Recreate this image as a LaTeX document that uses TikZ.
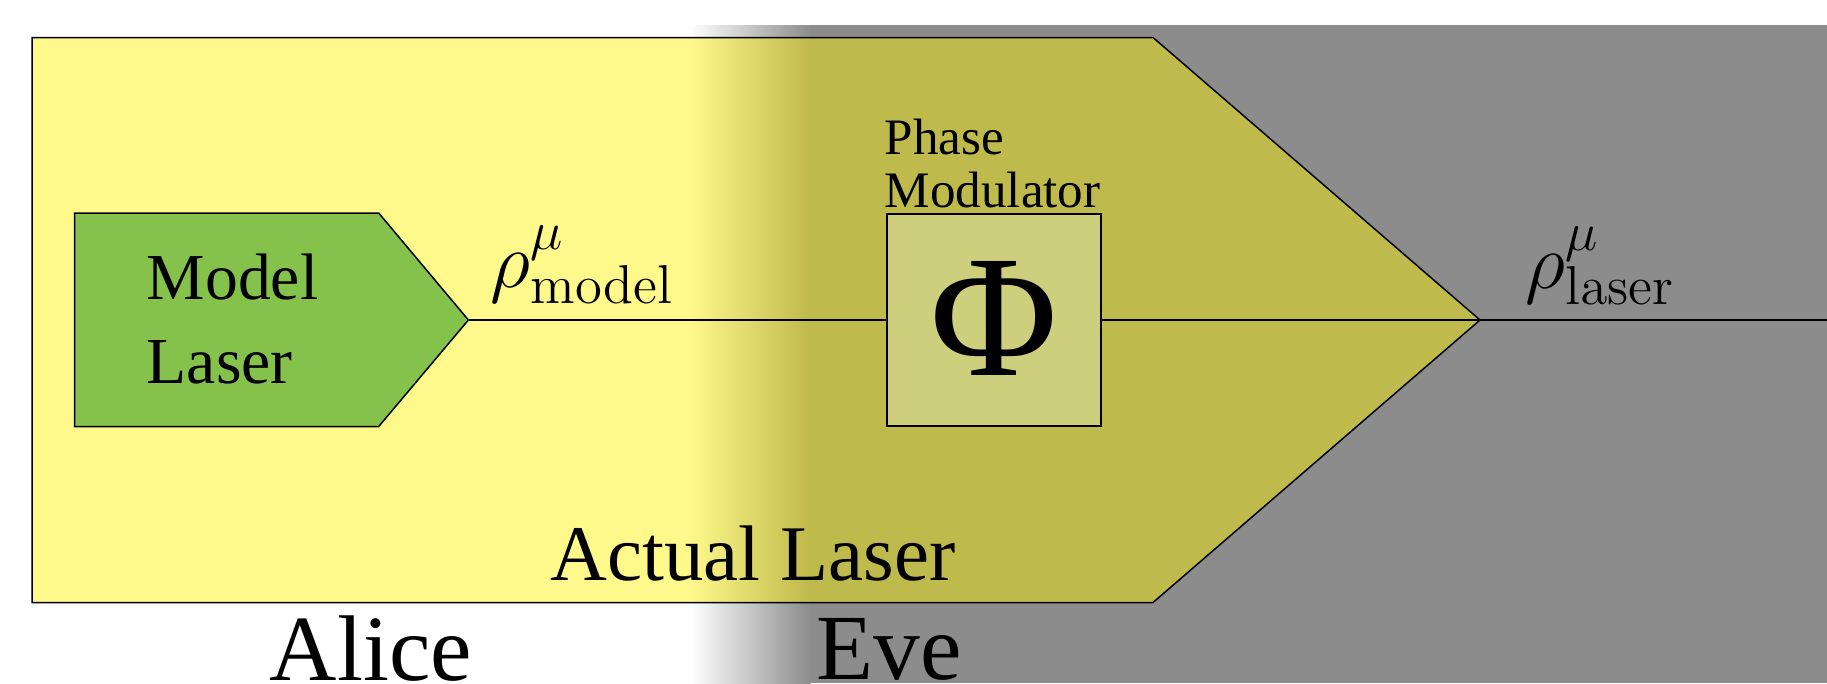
\documentclass[tikz,border=0pt]{standalone}
\usepackage[no-math]{fontspec}
\setmainfont{Liberation Serif}
\definecolor{bggray}{RGB}{140,140,140}
\definecolor{mgreen}{RGB}{133,194,76}
\definecolor{pmfill}{RGB}{206,207,124}
\begin{document}
\begin{tikzpicture}[x=1pt,y=-1pt,line width=1.5pt,
  lbl/.style={inner sep=0pt,scale=3.8,transform shape},
  shapeline/.style={draw=black,line width=1.5pt}]
\useasboundingbox (0,0) rectangle (1827,683);
% Eve's gray region with soft border
\fill[bggray] (810,25) rectangle (1827,683);
\shade[left color=white,right color=bggray] (690,25) rectangle (810.5,683);
% Actual laser
\path[shapeline,fill=yellow,fill opacity=0.45]
  (32,37.5) -- (1153,37.5) -- (1480,320) -- (1153,602.5) -- (32,602.5) -- cycle;
\coordinate (atip) at (1480,320);
\coordinate (rend) at (1827,320);
% Model laser
\path[shapeline,fill=mgreen]
  (74.6,213) -- (378.7,213) -- (468.4,320) -- (378.7,426.5) -- (74.6,426.5) -- cycle;
\coordinate (mtip) at (468.4,320);
% Phase modulator
\node[shapeline,fill=pmfill,minimum width=214pt,minimum height=212pt,inner sep=0pt] (pm) at (994,320) {};
\node[inner sep=0pt,scale=7.0,transform shape,font=\Huge] (phi) at (994,318) {Φ};
% connectors
\draw (mtip) -- (pm.west);
\draw (pm.east) -- (atip) -- (rend);
% labels
\node[lbl,font=\LARGE,anchor=base west] (ml1) at (144,299) {Model};
\node[lbl,font=\LARGE,anchor=base west] (ml2) at (144,383) {Laser};
\node[lbl,font=\huge,anchor=base] (al) at (753,580) {Actual Laser};
\node[inner sep=0pt,scale=3.55,transform shape,font=\Large,anchor=base west] (pm1) at (882,154) {Phase};
\node[inner sep=0pt,scale=3.55,transform shape,font=\Large,anchor=base west] (pm2) at (882,207) {Modulator};
\node[lbl,font=\huge,anchor=base west] (rm) at (488,287) {$\rho^{\mu}_{\mathrm{model}}$};
\node[lbl,font=\huge,anchor=base west] (rl) at (1523,288) {$\rho^{\mu}_{\mathrm{laser}}$};
\node[inner sep=0pt,scale=3.75,transform shape,font=\Huge,anchor=base] (alice) at (371,680) {Alice};
\node[inner sep=0pt,scale=3.75,transform shape,font=\Huge,anchor=base] (eve) at (889,679) {Eve};
\end{tikzpicture}
\end{document}
